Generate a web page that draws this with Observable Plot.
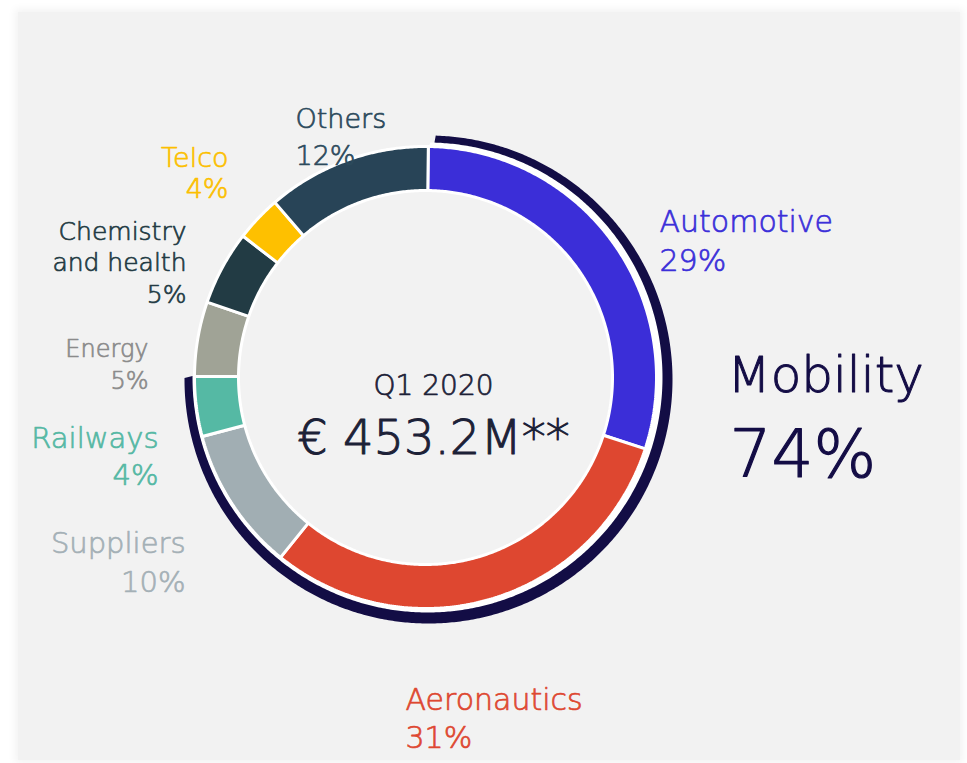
<!DOCTYPE html>
<html><head><meta charset="utf-8">
<script src="https://cdn.jsdelivr.net/npm/d3@7"></script>
<script src="https://cdn.jsdelivr.net/npm/@observablehq/plot@0.6"></script>
<style>
html,body{margin:0;padding:0;background:#fff;}
#wrap{position:relative;width:967px;height:763px;overflow:hidden;background:#fff;}
#panel{position:absolute;left:18px;top:12px;width:942px;height:748px;background:#f2f2f2;box-shadow:0 0 8px 3px rgba(0,0,0,0.05);}
#chart{position:absolute;left:0;top:0;}
</style></head><body>
<div id="wrap"><div id="panel"></div><div id="chart"></div></div>
<script>
// ---- data ----
const sectors = ["Automotive","Aeronautics","Suppliers","Railways","Energy","Chemistry and health","Telco","Others"];
const shares = [29.8, 30.8, 10.1, 4.2, 5.2, 5.2, 3.2, 11.5];   // arc share (%) as drawn
const percentLabels = ["29%","31%","10%","4%","5%","5%","4%","12%"];
const sliceColors = ["#3b2ed8","#de4730","#a1aeb3","#55b9a4","#a0a396","#223b44","#fec000","#284457"];
const labelColors = ["#3b2fd9","#de4831","#a4b0b6","#55b8a4","#8b8b8b","#233b44","#fcbf00","#2c4a5c"];
const groupName = "Mobility";
const groupPercent = "74%";
const groupMembers = ["Automotive","Aeronautics","Suppliers","Railways"];
const periodLabel = "Q1 2020";
const totalLabel = "€ 453.2M**";

// ---- layout ----
const W = 967, H = 763, cx = 425, cy = 377, rIn = 187, rOut = 231;
const startDeg = 0.7, groupStartDeg = 1.7;
const navyInner = {cx: 427, cy: 377, r: 235}, navyOuter = {cx: 428, cy: 379, r: 244};
const ringOuter = {cx, cy, r: rOut - 1};
const labelLayout = {
  "Automotive": {x: 659, y: 270, anchor: "start", size: 30, spacing: 39},
  "Aeronautics": {x: 405, y: 747, anchor: "start", size: 30, spacing: 38},
  "Suppliers": {x: 185, y: 591, anchor: "end", size: 29, spacing: 39},
  "Railways": {x: 158, y: 484, anchor: "end", size: 29, spacing: 37},
  "Energy": {x: 148, y: 388, anchor: "end", size: 24, spacing: 32},
  "Chemistry and health": {x: 186, y: 302, anchor: "end", size: 25, spacing: 31.5, lineWidth: 6},
  "Telco": {x: 228, y: 197, anchor: "end", size: 27, spacing: 31},
  "Others": {x: 295, y: 164, anchor: "start", size: 27, spacing: 37}
};
const font = "'DejaVu Sans', sans-serif";
const textWeight = 0.7;

// ring segment between an inner circle c0 and outer circle c1, from angle a0 to a1 (degrees, clockwise from top)
function arc(a0, a1, c0, c1, key, color) {
  const n = Math.max(6, Math.ceil(Math.abs(a1 - a0) / 0.5));
  const pts = [];
  for (let i = 0; i <= n; ++i) {
    const a = (a0 + (a1 - a0) * i / n) * Math.PI / 180;
    pts.push({x: c1.cx + c1.r * Math.sin(a), y: c1.cy - c1.r * Math.cos(a), key, color});
  }
  for (let i = n; i >= 0; --i) {
    const a = (a0 + (a1 - a0) * i / n) * Math.PI / 180;
    pts.push({x: c0.cx + c0.r * Math.sin(a), y: c0.cy - c0.r * Math.cos(a), key, color});
  }
  return pts;
}

let acc = startDeg;
const slicePts = [];
sectors.forEach((s, i) => {
  const a0 = acc, a1 = acc + shares[i] * 3.6;
  acc = a1;
  slicePts.push(...arc(a0, a1, {cx, cy, r: rIn}, {cx, cy, r: rOut}, s, sliceColors[i]));
});
const groupShare = d3.sum(sectors.filter(s => groupMembers.includes(s)).map(s => shares[sectors.indexOf(s)]));
const groupEnd = startDeg + groupShare * 3.6;
const bandPts = arc(startDeg, groupEnd, ringOuter, navyInner, "band", "white");
const navyPts = arc(groupStartDeg, groupEnd, navyInner, navyOuter, "navy", "#130d45");

const marks = [
  Plot.line(bandPts, {x: "x", y: "y", z: "key", fill: "white", stroke: "none", curve: "linear-closed"}),
  Plot.line(navyPts, {x: "x", y: "y", z: "key", fill: "#130d45", stroke: "none", curve: "linear-closed"}),
  Plot.line(slicePts, {x: "x", y: "y", z: "key", fill: "color", stroke: "white", strokeWidth: 3, strokeLinejoin: "miter", curve: "linear-closed"})
];
sectors.forEach((s, i) => {
  const L = labelLayout[s];
  marks.push(Plot.text([{x: L.x, y: L.y, t: s + "\n" + percentLabels[i]}], {
    x: "x", y: "y", text: "t", textAnchor: L.anchor, lineAnchor: "bottom",
    fontSize: L.size, lineHeight: L.spacing / L.size, fill: labelColors[i],
    stroke: labelColors[i], strokeWidth: textWeight, lineWidth: L.lineWidth
  }));
});
const centerText = (x, y, t, size, anchor, color, sw) =>
  Plot.text([{x, y, t}], {x: "x", y: "y", text: "t", textAnchor: anchor, lineAnchor: "bottom", fontSize: size, fill: color, stroke: color, strokeWidth: sw});
marks.push(
  centerText(727, 391, groupName, 50, "start", "#130c45", 1),
  centerText(729, 476, groupPercent, 66, "start", "#130c45", 1.2),
  centerText(433, 394, periodLabel, 28, "middle", "#1c2137", textWeight),
  centerText(433, 453, totalLabel, 48, "middle", "#1c2137", 1)
);

const chart = Plot.plot({
  width: W, height: H, margin: 0,
  x: {domain: [0, W], range: [0, W], axis: null},
  y: {domain: [0, H], range: [0, H], axis: null},
  color: {type: "identity"},
  style: {background: "transparent", fontFamily: font, fontWeight: 200},
  marks
});
document.getElementById("chart").appendChild(chart);
</script>
</body></html>
